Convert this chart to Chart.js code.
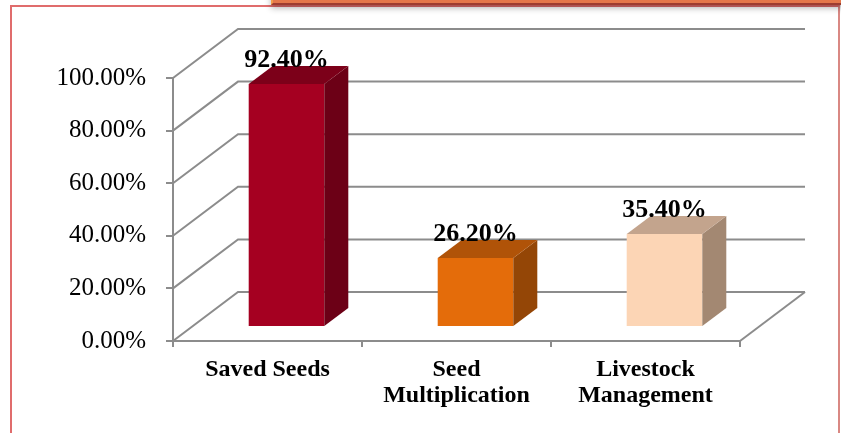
<!DOCTYPE html>
<html>
<head>
<meta charset="utf-8">
<script src="https://cdn.jsdelivr.net/npm/chart.js@4"></script>
<style>
  body { margin: 0; background: #fff; }
  #wrap { position: relative; width: 841px; height: 433px; overflow: hidden; background: #fff; }
  #frame { position: absolute; left: 10px; top: 5px; width: 826px; height: 480px; border: 2px solid #e06c6c; border-right-color: #d98883; }
  #tab { position: absolute; left: 271px; top: -10px; width: 600px; height: 13px; background: #e4774b;
         border-left: 2px solid #f29a4a; border-bottom: 2px solid #9d3c30; box-shadow: 0 3px 6px rgba(0,0,0,0.3); }
  canvas { position: absolute; left: 0; top: 0; }
</style>
</head>
<body>
<div id="wrap">
  <div id="frame"></div>
  <div id="tab"></div>
  <canvas id="grafico" width="841" height="433"></canvas>
</div>
<script>
// dados do gráfico
const categorias = [['Saved Seeds'], ['Seed', 'Multiplication'], ['Livestock', 'Management']];
const valores = [92.4, 26.2, 35.4];
const rotulos = ['92.40%', '26.20%', '35.40%'];

// cores: frente, lateral e topo de cada barra
const corFrente = ['#a50021', '#e46c0a', '#fcd5b5'];
const corLado = ['#6c0016', '#944606', '#a38872'];
const corTopo = ['#7c0019', '#b05308', '#c3a48d'];

const FONTE = "'Liberation Serif', 'Times New Roman', serif";
const CINZA = '#8c8c8c';

// profundidade do "3D"
const PAREDE_DX = 65, PAREDE_DY = -49;   // parede do fundo
const FRENTE_DX = 19, FRENTE_DY = -14;   // deslocamento da face frontal
const BARRA_DX = 24, BARRA_DY = -18;     // espessura da barra

const efeito3d = {
    id: 'efeito3d',
    beforeDatasetsDraw(chart) {
        const ctx = chart.ctx;
        const y = chart.scales.y;
        const area = chart.chartArea;
        ctx.save();
        ctx.strokeStyle = CINZA;
        ctx.lineWidth = 2;
        // linhas da parede do fundo + parede lateral
        y.ticks.forEach(t => {
            const py = y.getPixelForValue(t.value);
            ctx.beginPath();
            ctx.moveTo(area.left, py);
            ctx.lineTo(area.left + PAREDE_DX, py + PAREDE_DY);
            ctx.lineTo(area.right + PAREDE_DX, py + PAREDE_DY);
            ctx.stroke();
        });
        // borda direita do piso
        ctx.beginPath();
        ctx.moveTo(area.right, area.bottom);
        ctx.lineTo(area.right + PAREDE_DX, area.bottom + PAREDE_DY);
        ctx.stroke();
        ctx.restore();

        // as barras são desenhadas deslocadas para dentro do piso
        ctx.save();
        ctx.translate(FRENTE_DX, FRENTE_DY);
    },
    afterDatasetsDraw(chart) {
        const ctx = chart.ctx;
        const meta = chart.getDatasetMeta(0);
        meta.data.forEach((bar, i) => {
            const p = bar.getProps(['x', 'y', 'base', 'width'], true);
            const l = p.x - p.width / 2, r = p.x + p.width / 2;
            // lateral
            ctx.fillStyle = corLado[i];
            ctx.beginPath();
            ctx.moveTo(r, p.y);
            ctx.lineTo(r + BARRA_DX, p.y + BARRA_DY);
            ctx.lineTo(r + BARRA_DX, p.base + BARRA_DY);
            ctx.lineTo(r, p.base);
            ctx.closePath();
            ctx.fill();
            // topo
            ctx.fillStyle = corTopo[i];
            ctx.beginPath();
            ctx.moveTo(l, p.y);
            ctx.lineTo(l + BARRA_DX, p.y + BARRA_DY);
            ctx.lineTo(r + BARRA_DX, p.y + BARRA_DY);
            ctx.lineTo(r, p.y);
            ctx.closePath();
            ctx.fill();
        });
        ctx.restore();

        // rótulos de valor
        ctx.save();
        ctx.fillStyle = '#000';
        ctx.font = 'bold 26px ' + FONTE;
        ctx.textAlign = 'center';
        ctx.textBaseline = 'alphabetic';
        meta.data.forEach((bar, i) => {
            const p = bar.getProps(['x', 'y'], true);
            ctx.fillText(rotulos[i], p.x + FRENTE_DX, p.y + FRENTE_DY + BARRA_DY + 1);
        });
        ctx.restore();
    }
};

const ctx = document.getElementById('grafico').getContext('2d');
const grafico = new Chart(ctx, {
    type: 'bar',
    data: {
        labels: categorias,
        datasets: [{
            data: valores,
            backgroundColor: corFrente,
            borderWidth: 0,
            categoryPercentage: 1,
            barPercentage: 0.4,
            clip: false
        }]
    },
    options: {
        responsive: false,
        animation: false,
        devicePixelRatio: 1,
        layout: { padding: { left: 0, right: 101, top: 78, bottom: 0 } },
        plugins: { legend: { display: false }, tooltip: { enabled: false } },
        scales: {
            y: {
                min: 0,
                max: 100,
                afterFit(scale) { scale.width = 173; },
                ticks: {
                    stepSize: 20,
                    padding: 20,
                    color: '#000',
                    font: { family: FONTE, size: 25 },
                    callback: v => v.toFixed(2) + '%'
                },
                grid: { drawOnChartArea: false, color: CINZA, lineWidth: 2, tickLength: 7 },
                border: { color: CINZA, width: 2 }
            },
            x: {
                afterFit(scale) { scale.height = 92; },
                ticks: {
                    padding: 10,
                    maxRotation: 0,
                    color: '#000',
                    font: { family: FONTE, size: 24, weight: 'bold', lineHeight: '26px' }
                },
                grid: { drawOnChartArea: false, offset: true, color: CINZA, lineWidth: 2, tickLength: 6 },
                border: { color: CINZA, width: 2 }
            }
        }
    },
    plugins: [efeito3d]
});
</script>
</body>
</html>
